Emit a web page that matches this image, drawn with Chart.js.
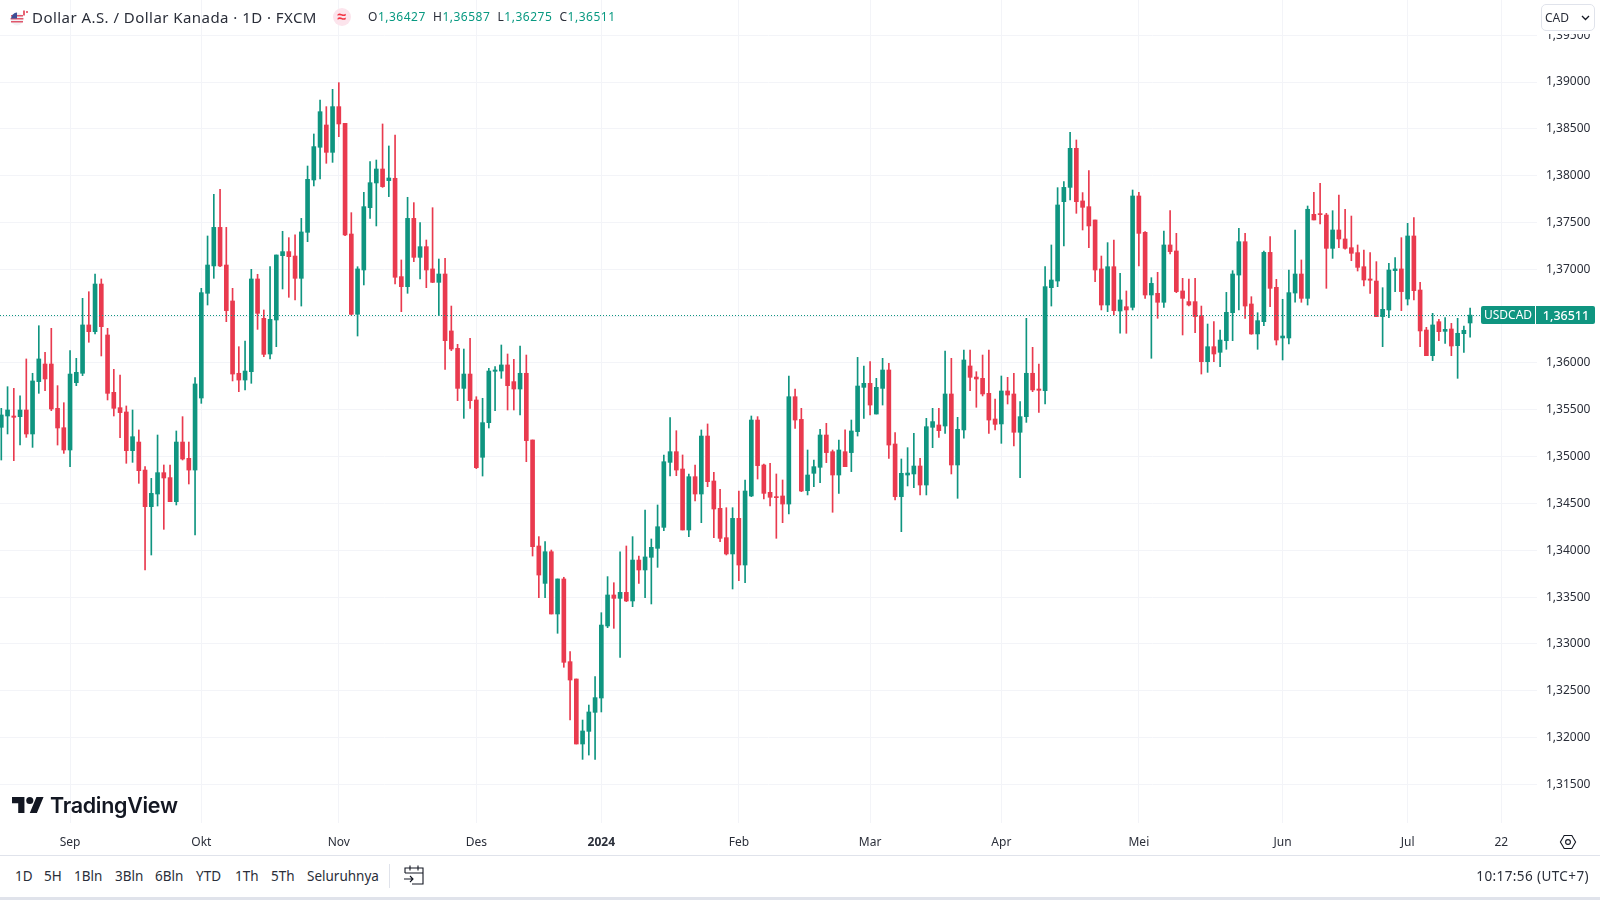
<!DOCTYPE html>
<html>
<head>
<meta charset="utf-8">
<title>USDCAD</title>
<script src="https://cdn.jsdelivr.net/npm/chart.js@4/dist/chart.umd.js"></script>
<style>
html, body { margin: 0; padding: 0; background: #fff; overflow: hidden; }
body { width: 1600px; height: 900px; position: relative; font-family: "Noto Sans", sans-serif; color: #2a2e39; }
canvas { position: absolute; left: 0; top: 0; }
.t { position: absolute; white-space: nowrap; line-height: 18px; }
.up { color: #089981; }
#title { left: 32px; top: 8px; font-size: 15px; letter-spacing: 0.45px; }
#ohlc { left: 368px; top: 8px; font-size: 12px; letter-spacing: 0.5px; }
#cad { position: absolute; left: 1541px; top: 4px; width: 54px; height: 27px; box-sizing: border-box; background: #fff; border: 1px solid #e0e3eb; border-radius: 5px; box-shadow: 0 3px 0 #fff; font-size: 12px; line-height: 25px; padding-left: 3px; }
#footLine { position: absolute; left: 0; top: 855px; width: 1600px; height: 1px; background: #e0e3eb; }
#footSep { position: absolute; left: 389px; top: 864px; width: 1px; height: 24px; background: #e0e3eb; }
#strip { position: absolute; left: 0; top: 897px; width: 1600px; height: 3px; background: #e0e3eb; }
.r { top: 867px; font-size: 13.5px; }
#logoText { left: 50px; top: 790px; font: 600 21.5px/30px Inter, sans-serif; letter-spacing: -0.3px; color: #131722; }
svg { position: absolute; }
#wave { position: absolute; left: 333px; top: 8px; width: 18px; height: 18px; border-radius: 9px; background: #fce4ec; color: #f23645; font-size: 16px; line-height: 17px; text-align: center; font-weight: 700; }
</style>
</head>
<body>
<canvas id="chart" width="1600" height="855"></canvas>

<svg style="left:9px;top:9px" width="20" height="18" viewBox="0 0 20 18">
  <circle cx="8" cy="10" r="6.5" fill="#f2f2f5"/>
  <path d="M2 6h12v1.6H2zM1.6 9h12.8v1.6H1.6zM2 12h12v1.6H2z" fill="#e0566b"/>
  <path d="M2 9.5A6.5 6.5 0 0 1 8 3.5v6z" fill="#3c4f96"/>
  <path d="M15 1.5v5" stroke="#e23a4e" stroke-width="1.6"/>
  <circle cx="18" cy="3" r="1" fill="#e23a4e"/>
</svg>
<div class="t" id="title">Dollar A.S. / Dollar Kanada · 1D · FXCM</div>
<div id="wave">≈</div>
<div class="t" id="ohlc">O<span class="up">1,36427</span> &nbsp;H<span class="up">1,36587</span> &nbsp;L<span class="up">1,36275</span> &nbsp;C<span class="up">1,36511</span></div>
<div id="cad">CAD<svg style="left:39px;top:10px" width="9" height="6" viewBox="0 0 9 6"><path d="M1 1l3.5 3.5L8 1" fill="none" stroke="#131722" stroke-width="1.3"/></svg></div>

<svg style="left:12px;top:796px" width="32" height="18" viewBox="0 3 36 20" preserveAspectRatio="none">
  <path d="M14 22H7V11H0V4h14v18zM28 22h-8l7.5-18h8L28 22z" fill="#131722"/>
  <circle cx="20" cy="8" r="4" fill="#131722"/>
</svg>
<div class="t" id="logoText">TradingView</div>

<svg style="left:1559px;top:833px" width="18" height="18" viewBox="0 0 18 18">
  <path d="M5.2 2.5h7.6L16.6 9l-3.8 6.5H5.2L1.4 9z" fill="none" stroke="#131722" stroke-width="1.1"/>
  <circle cx="9" cy="9" r="2.4" fill="none" stroke="#131722" stroke-width="1.1"/>
</svg>

<div id="footLine"></div>
<div class="t r" style="left:15px">1D</div>
<div class="t r" style="left:44px">5H</div>
<div class="t r" style="left:74px">1Bln</div>
<div class="t r" style="left:115px">3Bln</div>
<div class="t r" style="left:155px">6Bln</div>
<div class="t r" style="left:196px">YTD</div>
<div class="t r" style="left:235px">1Th</div>
<div class="t r" style="left:271px">5Th</div>
<div class="t r" style="left:307px">Seluruhnya</div>
<div id="footSep"></div>
<svg style="left:403px;top:864px" width="22" height="22" viewBox="0 0 22 22">
  <path d="M2 9V4h18v16H9M2 9h18M7 1.5v5M15 1.5v5M1 15h9M7 12l3 3-3 3" fill="none" stroke="#131722" stroke-width="1.1"/>
</svg>
<div class="t r" style="right:11px;letter-spacing:0.4px">10:17:56 (UTC+7)</div>
<div id="strip"></div>

<script>
const opens = [
  1.35313,1.35434,1.35434,1.35427,1.35498,1.35242,1.35801,1.35989,1.35989,1.35516,
  1.35309,1.35071,1.35790,1.35890,1.36406,1.36334,1.36843,1.36299,1.35687,1.35523,
  1.35477,1.35064,1.35156,1.34857,1.34466,1.34601,1.34829,1.34776,1.34519,1.35156,
  1.34982,1.34857,1.35626,1.36744,1.37036,1.37448,1.37046,1.36662,1.35890,1.35818,
  1.35907,1.36897,1.36477,1.36096,1.36459,1.37146,1.37189,1.37142,1.36904,1.37395,
  1.37954,1.38303,1.38541,1.38249,1.38737,1.38559,1.37377,1.36520,1.36993,1.37658,
  1.37922,1.38071,1.37947,1.37972,1.36922,1.36815,1.37544,1.37128,1.37242,1.37004,
  1.36861,1.36950,1.36342,1.36156,1.35729,1.35882,1.35605,1.34993,1.35363,1.35911,
  1.35914,1.35979,1.35801,1.35722,1.35890,1.35178,1.34046,1.33647,1.33985,1.33320,
  1.33694,1.32811,1.32626,1.31932,1.32067,1.32270,1.32423,1.33192,1.33523,1.33487,
  1.33551,1.33459,1.33896,1.33790,1.33925,1.34021,1.34245,1.34939,1.35053,1.34868,
  1.34217,1.34786,1.34601,1.35220,1.34740,1.34448,1.34135,1.33961,1.34341,1.33843,
  1.34580,1.35391,1.34911,1.34619,1.34573,1.34580,1.34494,1.35640,1.35398,1.34637,
  1.34822,1.34886,1.35231,1.35053,1.34804,1.35053,1.35043,1.35267,1.35740,1.35783,
  1.35455,1.35729,1.35925,1.35135,1.34573,1.34804,1.34815,1.34900,1.34697,1.35313,
  1.35338,1.35327,1.35669,1.34911,1.35285,1.35968,1.35850,1.35836,1.35676,1.35402,
  1.35349,1.35701,1.35669,1.35260,1.35427,1.35890,1.35722,1.35704,1.36804,1.36875,
  1.37722,1.37875,1.38292,1.37730,1.37669,1.37527,1.37004,1.36619,1.37028,1.36555,
  1.36601,1.36594,1.37783,1.37395,1.36726,1.36744,1.36648,1.37260,1.37196,1.36769,
  1.36655,1.36655,1.36505,1.36014,1.36174,1.36114,1.36238,1.36537,1.36939,1.37295,
  1.36630,1.36310,1.36441,1.37181,1.36808,1.36267,1.36267,1.36747,1.36950,1.36690,
  1.37587,1.37594,1.37580,1.37224,1.37420,1.37324,1.37231,1.37178,1.37028,1.36897,
  1.36875,1.36495,1.36566,1.36986,1.37004,1.36683,1.37356,1.36779,1.36352,1.36078,
  1.36441,1.36338,1.36363,1.36185,1.36313,1.36427
];
const highs = [
  1.35516,1.35747,1.35729,1.35648,1.36043,1.35890,1.36398,1.36114,1.36370,1.35758,
  1.35576,1.36132,1.36050,1.36690,1.36761,1.36950,1.36897,1.36370,1.35932,1.35872,
  1.35541,1.35498,1.35285,1.34893,1.34768,1.35231,1.34911,1.34911,1.35274,1.35427,
  1.35156,1.35843,1.36797,1.37356,1.37801,1.37854,1.37448,1.36797,1.36174,1.36235,
  1.37000,1.36947,1.36566,1.37028,1.37153,1.37406,1.37338,1.37367,1.37544,1.38103,
  1.38445,1.38808,1.38737,1.38922,1.38993,1.38559,1.37605,1.37028,1.37822,1.38150,
  1.38167,1.38552,1.38317,1.38434,1.37100,1.37769,1.37712,1.37498,1.37313,1.37658,
  1.37110,1.37117,1.36608,1.36199,1.36149,1.36263,1.35640,1.35623,1.35943,1.35961,
  1.36192,1.36096,1.36039,1.36181,1.36085,1.35178,1.34146,1.34092,1.34003,1.33694,
  1.33712,1.32918,1.32626,1.32188,1.32348,1.32651,1.33334,1.33719,1.33654,1.33985,
  1.34046,1.34146,1.33939,1.34430,1.34121,1.34484,1.35018,1.35416,1.35277,1.35018,
  1.34815,1.34911,1.35285,1.35349,1.34833,1.34651,1.34455,1.34455,1.34633,1.34751,
  1.35434,1.35427,1.34921,1.34929,1.34815,1.34751,1.35861,1.35722,1.35516,1.35071,
  1.34964,1.35292,1.35356,1.35071,1.35178,1.35285,1.35391,1.36060,1.35968,1.36014,
  1.35836,1.36050,1.35996,1.35256,1.34975,1.35096,1.35249,1.34982,1.35409,1.35516,
  1.35516,1.36128,1.36050,1.35420,1.36139,1.36139,1.35907,1.36085,1.36139,1.35615,
  1.35861,1.35847,1.35890,1.35587,1.36477,1.36167,1.35989,1.37028,1.37260,1.37872,
  1.37936,1.38463,1.38381,1.37819,1.38053,1.37527,1.37142,1.37285,1.37313,1.36957,
  1.36769,1.37847,1.37822,1.37402,1.36911,1.36968,1.37409,1.37626,1.37384,1.36904,
  1.36897,1.36904,1.36608,1.36416,1.36441,1.36352,1.36754,1.36986,1.37438,1.37384,
  1.36708,1.36537,1.37196,1.37349,1.36893,1.36680,1.36993,1.37420,1.37100,1.37676,
  1.37822,1.37918,1.37598,1.37626,1.37794,1.37641,1.37569,1.37260,1.37206,1.37178,
  1.37082,1.36804,1.37064,1.37125,1.37338,1.37491,1.37552,1.36861,1.36381,1.36530,
  1.36466,1.36484,1.36423,1.36477,1.36395,1.36587
];
const lows = [
  1.34964,1.35242,1.34957,1.35124,1.35206,1.35099,1.35676,1.35704,1.35491,1.35124,
  1.35035,1.34893,1.35758,1.35865,1.36221,1.36310,1.36075,1.35605,1.35434,1.35203,
  1.34929,1.34939,1.34715,1.33790,1.33950,1.34473,1.34224,1.34519,1.34484,1.34964,
  1.34708,1.34163,1.35569,1.36619,1.36904,1.37028,1.36441,1.35808,1.35694,1.35712,
  1.35783,1.36359,1.36067,1.36043,1.36174,1.36790,1.36701,1.36673,1.36608,1.37295,
  1.37890,1.37964,1.38132,1.38142,1.38416,1.37359,1.36512,1.36288,1.36833,1.37544,
  1.37463,1.37875,1.37776,1.36843,1.36548,1.36744,1.37082,1.36897,1.36804,1.36858,
  1.36505,1.35932,1.36132,1.35598,1.35409,1.35516,1.34872,1.34793,1.35306,1.35491,
  1.35836,1.35498,1.35498,1.35445,1.34946,1.33939,1.33494,1.33494,1.33320,1.33114,
  1.32751,1.32188,1.31932,1.31768,1.31814,1.31768,1.32274,1.33174,1.33167,1.32857,
  1.33452,1.33398,1.33647,1.33494,1.33427,1.33818,1.34210,1.34793,1.34797,1.34217,
  1.34146,1.34527,1.34295,1.34679,1.34135,1.34092,1.33950,1.33587,1.33676,1.33654,
  1.34573,1.34761,1.34548,1.34473,1.34128,1.34295,1.34388,1.35302,1.34626,1.34591,
  1.34679,1.34722,1.34936,1.34406,1.34608,1.34893,1.34840,1.35220,1.35409,1.35445,
  1.35455,1.35551,1.34982,1.34537,1.34199,1.34687,1.34669,1.34591,1.34591,1.35096,
  1.35206,1.35249,1.34815,1.34555,1.35196,1.35704,1.35527,1.35648,1.35249,1.35285,
  1.35142,1.35562,1.35114,1.34776,1.35366,1.35694,1.35473,1.35562,1.36608,1.36815,
  1.37249,1.37740,1.37598,1.37420,1.37231,1.36868,1.36566,1.36548,1.36512,1.36317,
  1.36317,1.36566,1.37036,1.36690,1.36050,1.36477,1.36594,1.37164,1.36751,1.36299,
  1.36608,1.36324,1.35882,1.35900,1.36014,1.35961,1.36146,1.36238,1.36566,1.36477,
  1.36306,1.36146,1.36398,1.36601,1.36192,1.36032,1.36203,1.36648,1.36648,1.36619,
  1.37527,1.37484,1.36797,1.37117,1.37231,1.37214,1.37092,1.36982,1.36822,1.36744,
  1.36495,1.36174,1.36484,1.36762,1.36559,1.36619,1.36673,1.36174,1.36078,1.36025,
  1.36238,1.36210,1.36078,1.35836,1.36114,1.36275
];
const closes = [
  1.35445,1.35498,1.35420,1.35498,1.35242,1.35808,1.36043,1.35829,1.35509,1.35306,
  1.35071,1.35882,1.35900,1.36406,1.36334,1.36843,1.36388,1.35676,1.35516,1.35470,
  1.35064,1.35213,1.34850,1.34466,1.34608,1.34829,1.34772,1.34519,1.35156,1.34975,
  1.34857,1.35776,1.36751,1.37046,1.37448,1.37036,1.36559,1.35882,1.35818,1.35914,
  1.36897,1.36530,1.36092,1.36466,1.37153,1.37189,1.37135,1.36904,1.37399,1.37961,
  1.38310,1.38683,1.38249,1.38737,1.38552,1.37367,1.36520,1.37004,1.37669,1.37925,
  1.38071,1.37883,1.37975,1.36915,1.36815,1.37544,1.37128,1.37242,1.36993,1.36861,
  1.36950,1.36238,1.36149,1.35729,1.35882,1.35598,1.34882,1.35363,1.35914,1.35925,
  1.35979,1.35758,1.35722,1.35890,1.35171,1.34039,1.33736,1.33985,1.33320,1.33694,
  1.32804,1.32615,1.31932,1.32071,1.32274,1.32427,1.33202,1.33523,1.33487,1.33551,
  1.33459,1.33896,1.33790,1.33929,1.34032,1.34252,1.34946,1.35053,1.34857,1.34217,
  1.34786,1.34601,1.35220,1.34733,1.34441,1.34128,1.33961,1.34341,1.33843,1.34633,
  1.35391,1.34904,1.34608,1.34566,1.34562,1.34494,1.35640,1.35391,1.34633,1.34804,
  1.34893,1.35231,1.35043,1.34804,1.35071,1.34893,1.35274,1.35754,1.35783,1.35551,
  1.35740,1.35925,1.35124,1.34573,1.34822,1.34825,1.34900,1.34697,1.35320,1.35374,
  1.35277,1.35669,1.34911,1.35292,1.36032,1.35847,1.35829,1.35669,1.35391,1.35345,
  1.35701,1.35658,1.35260,1.35427,1.35890,1.35712,1.35708,1.36815,1.36886,1.37687,
  1.37875,1.38292,1.37722,1.37662,1.37463,1.36993,1.36619,1.37028,1.36559,1.36673,
  1.36566,1.37783,1.37384,1.36726,1.36850,1.36648,1.37260,1.37189,1.36762,1.36690,
  1.36619,1.36495,1.36014,1.36174,1.36096,1.36245,1.36541,1.36950,1.37295,1.36608,
  1.36310,1.36452,1.37181,1.36797,1.36245,1.36288,1.36751,1.36950,1.36690,1.37641,
  1.37527,1.37584,1.37224,1.37420,1.37324,1.37224,1.37171,1.37021,1.36886,1.36883,
  1.36495,1.36573,1.36993,1.37004,1.36762,1.37356,1.36772,1.36342,1.36078,1.36406,
  1.36334,1.36359,1.36181,1.36317,1.36349,1.36511
];

// bar numbers where the time axis prints a label
const timeTicks = [11, 32, 54, 76, 96, 118, 139, 160, 182, 205, 225, 240];
const timeLabels = ['Sep', 'Okt', 'Nov', 'Des', '2024', 'Feb', 'Mar', 'Apr', 'Mei', 'Jun', 'Jul', '22'];
const priceTicks = [1.395, 1.39, 1.385, 1.38, 1.375, 1.37, 1.365, 1.36, 1.355, 1.35, 1.345, 1.34, 1.335, 1.33, 1.325, 1.32, 1.315];
const symbol = 'USDCAD';

const upColor = '#0f9580';
const downColor = '#e93a4e';
const gridColor = '#f3f4f8';
const fontName = '"Noto Sans", sans-serif';
const textColor = '#2a2e39';

const fmtPrice = v => v.toFixed(5).replace('.', ',');
const colors = closes.map((c, i) => c >= opens[i] ? upColor : downColor);

const wicks = lows.map((l, i) => ({ x: i, y: [l, highs[i]] }));
const bodies = opens.map((o, i) => ({ x: i, y: [o, closes[i]] }));

const lastPrice = {
    id: 'lastPrice',
    afterDatasetsDraw(chart) {
        const { ctx, scales } = chart;
        const close = closes[closes.length - 1];
        const y = Math.round(scales.y.getPixelForValue(close));
        ctx.save();
        ctx.strokeStyle = upColor;
        ctx.lineWidth = 1;
        ctx.setLineDash([1, 2]);
        ctx.beginPath();
        ctx.moveTo(0, y + 0.5);
        ctx.lineTo(1481, y + 0.5);
        ctx.stroke();
        ctx.setLineDash([]);

        ctx.fillStyle = upColor;
        ctx.beginPath();
        ctx.roundRect(1481, y - 9, 114, 18, 2);
        ctx.fill();
        ctx.fillStyle = '#fff';
        ctx.fillRect(1535, y - 9, 1, 18);
        ctx.font = '12px ' + fontName;
        ctx.textBaseline = 'middle';
        ctx.textAlign = 'center';
        ctx.fillText(symbol, 1508, y + 1);
        ctx.font = '500 12.5px ' + fontName;
        ctx.fillText(fmtPrice(close), 1566, y + 1);
        ctx.restore();
    }
};

new Chart(document.getElementById('chart'), {
    type: 'bar',
    data: {
        datasets: [
            {
                data: wicks,
                backgroundColor: colors,
                barThickness: 1,
                grouped: false,
                order: 2
            },
            {
                data: bodies,
                backgroundColor: colors,
                barThickness: 4,
                minBarLength: 1,
                grouped: false,
                order: 1
            }
        ]
    },
    options: {
        responsive: false,
        animation: false,
        layout: { padding: 0 },
        plugins: {
            legend: { display: false },
            tooltip: { enabled: false }
        },
        scales: {
            x: {
                type: 'linear',
                offset: false,
                min: -0.208,
                max: 245.7,
                border: { display: false },
                grid: { color: gridColor, drawTicks: false, offset: false },
                afterBuildTicks: s => { s.ticks = timeTicks.map(v => ({ value: v })); },
                afterFit: s => { s.height = 32; s.paddingLeft = 0; s.paddingRight = 0; },
                ticks: {
                    autoSkip: false,
                    maxRotation: 0,
                    padding: 12,
                    color: textColor,
                    font: c => ({ family: fontName, size: 12, weight: timeLabels[c.index] === '2024' ? 'bold' : 'normal' }),
                    callback: (v, i) => timeLabels[i]
                }
            },
            y: {
                position: 'right',
                min: 1.310885,
                max: 1.398755,
                border: { display: false },
                grid: { color: gridColor, drawTicks: false },
                afterBuildTicks: s => { s.ticks = priceTicks.map(v => ({ value: v })); },
                afterFit: s => { s.width = 63; s.paddingTop = 0; s.paddingBottom = 0; },
                ticks: {
                    autoSkip: false,
                    padding: 9,
                    color: textColor,
                    font: { family: fontName, size: 12 },
                    callback: v => fmtPrice(v)
                }
            }
        }
    },
    plugins: [lastPrice]
});
</script>
</body>
</html>
